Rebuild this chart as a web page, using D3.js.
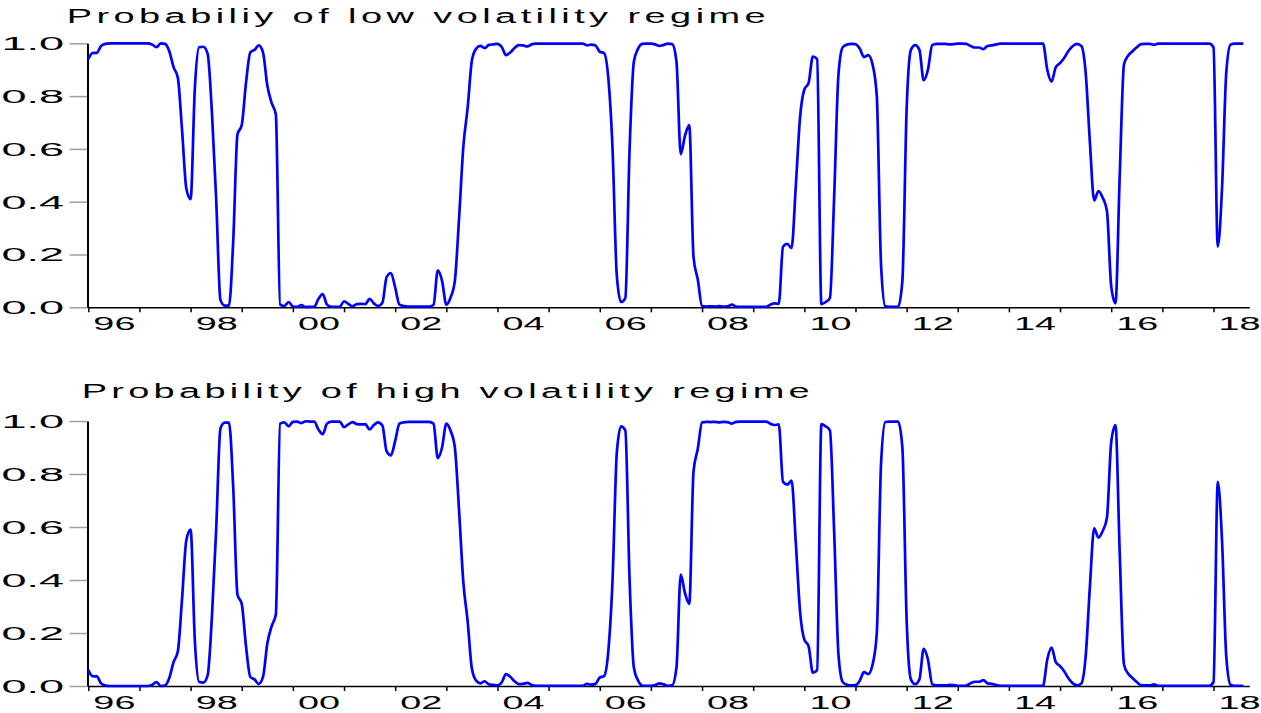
<!DOCTYPE html>
<html>
<head>
<meta charset="utf-8">
<script src="https://cdn.jsdelivr.net/npm/d3@7"></script>
<style>
html,body{margin:0;padding:0;background:#fff;}
svg{display:block;}
</style>
</head>
<body>
<svg id="chart" width="1261" height="713"></svg>
<script>
// ---------------- DATA (monthly, Jan 1996 - Aug 2018) ----------------
const startYear = 1996;
const periodsPerYear = 12;

const lowProb = [
  // 1996
  0.94, 0.963, 0.964, 0.99, 0.998, 1, 1, 1, 1, 1, 1, 1,
  // 1997
  1, 1, 1, 0.995, 0.985, 1, 0.998, 0.97, 0.91, 0.87, 0.67, 0.45,
  // 1998
  0.41, 0.83, 0.985, 0.987, 0.96, 0.74, 0.41, 0.028, 0.006, 0.006, 0.25, 0.655,
  // 1999
  0.69, 0.85, 0.965, 0.975, 0.992, 0.965, 0.84, 0.775, 0.73, 0.01, 0.005, 0.02,
  // 2000
  0.003, 0.002, 0.008, 0.001, 0.002, 0.002, 0.032, 0.05, 0.01, 0.002, 0.002, 0.002,
  // 2001
  0.023, 0.013, 0.004, 0.012, 0.013, 0.012, 0.032, 0.015, 0.005, 0.017, 0.115, 0.13,
  // 2002
  0.075, 0.01, 0.005, 0.003, 0.003, 0.003, 0.003, 0.003, 0.003, 0.01, 0.14, 0.1,
  // 2003
  0.01, 0.037, 0.1, 0.34, 0.61, 0.755, 0.935, 0.98, 0.99, 0.982, 0.994, 0.996,
  // 2004
  0.998, 0.986, 0.955, 0.965, 0.982, 0.993, 0.992, 0.988, 0.996, 0.999, 0.999, 0.999,
  // 2005
  0.999, 0.999, 0.999, 0.999, 0.999, 0.999, 0.999, 0.999, 0.999, 0.992, 0.995, 0.992,
  // 2006
  0.968, 0.963, 0.87, 0.6, 0.12, 0.02, 0.035, 0.6, 0.93, 0.98, 0.998, 0.999,
  // 2007
  0.999, 0.996, 0.99, 0.994, 0.999, 0.997, 0.93, 0.58, 0.65, 0.69, 0.19, 0.105,
  // 2008
  0.005, 0.003, 0.004, 0.003, 0.005, 0.003, 0.004, 0.01, 0.003, 0.002, 0.002, 0.002,
  // 2009
  0.002, 0.002, 0.002, 0.002, 0.01, 0.015, 0.013, 0.23, 0.24, 0.225, 0.46, 0.72,
  // 2010
  0.825, 0.85, 0.95, 0.94, 0.012, 0.02, 0.035, 0.42, 0.88, 0.985, 0.995, 0.998,
  // 2011
  0.997, 0.98, 0.948, 0.955, 0.92, 0.8, 0.16, 0.004, 0.002, 0.002, 0.002, 0.1,
  // 2012
  0.75, 0.975, 0.993, 0.975, 0.86, 0.9, 0.993, 0.998, 0.998, 0.998, 0.996, 0.997,
  // 2013
  0.999, 0.999, 0.998, 0.99, 0.984, 0.984, 0.978, 0.99, 0.992, 0.996, 0.999, 0.999,
  // 2014
  0.999, 0.999, 0.999, 0.999, 0.999, 0.999, 0.999, 0.999, 0.999, 0.9, 0.855, 0.91,
  // 2015
  0.925, 0.945, 0.972, 0.99, 0.998, 0.99, 0.89, 0.625, 0.405, 0.44, 0.415, 0.365,
  // 2016
  0.08, 0.015, 0.5, 0.92, 0.954, 0.97, 0.985, 0.997, 0.998, 0.998, 0.994, 0.999,
  // 2017
  0.999, 0.999, 0.999, 0.999, 0.999, 0.999, 0.999, 0.999, 0.999, 0.999, 0.999, 0.999,
  // 2018
  0.985, 0.23, 0.45, 0.89, 0.995, 0.999, 0.999, 0.999
];

const highProb = [
  // 1996
  0.06, 0.037, 0.036, 0.01, 0.002, 0, 0, 0, 0, 0, 0, 0,
  // 1997
  0, 0, 0, 0.005, 0.015, 0, 0.002, 0.03, 0.09, 0.13, 0.33, 0.55,
  // 1998
  0.59, 0.17, 0.015, 0.013, 0.04, 0.26, 0.59, 0.972, 0.994, 0.994, 0.75, 0.345,
  // 1999
  0.31, 0.15, 0.035, 0.025, 0.008, 0.035, 0.16, 0.225, 0.27, 0.99, 0.995, 0.98,
  // 2000
  0.997, 0.998, 0.992, 0.999, 0.998, 0.998, 0.968, 0.95, 0.99, 0.998, 0.998, 0.998,
  // 2001
  0.977, 0.987, 0.996, 0.988, 0.987, 0.988, 0.968, 0.985, 0.995, 0.983, 0.885, 0.87,
  // 2002
  0.925, 0.99, 0.995, 0.997, 0.997, 0.997, 0.997, 0.997, 0.997, 0.99, 0.86, 0.9,
  // 2003
  0.99, 0.963, 0.9, 0.66, 0.39, 0.245, 0.065, 0.02, 0.01, 0.018, 0.006, 0.004,
  // 2004
  0.002, 0.014, 0.045, 0.035, 0.018, 0.007, 0.008, 0.012, 0.004, 0.001, 0.001, 0.001,
  // 2005
  0.001, 0.001, 0.001, 0.001, 0.001, 0.001, 0.001, 0.001, 0.001, 0.008, 0.005, 0.008,
  // 2006
  0.032, 0.037, 0.13, 0.4, 0.88, 0.98, 0.965, 0.4, 0.07, 0.02, 0.002, 0.001,
  // 2007
  0.001, 0.004, 0.01, 0.006, 0.001, 0.003, 0.07, 0.42, 0.35, 0.31, 0.81, 0.895,
  // 2008
  0.995, 0.997, 0.996, 0.997, 0.995, 0.997, 0.996, 0.99, 0.997, 0.998, 0.998, 0.998,
  // 2009
  0.998, 0.998, 0.998, 0.998, 0.99, 0.985, 0.987, 0.77, 0.76, 0.775, 0.54, 0.28,
  // 2010
  0.175, 0.15, 0.05, 0.06, 0.988, 0.98, 0.965, 0.58, 0.12, 0.015, 0.005, 0.002,
  // 2011
  0.003, 0.02, 0.052, 0.045, 0.08, 0.2, 0.84, 0.996, 0.998, 0.998, 0.998, 0.9,
  // 2012
  0.25, 0.025, 0.007, 0.025, 0.14, 0.1, 0.007, 0.002, 0.002, 0.002, 0.004, 0.003,
  // 2013
  0.001, 0.001, 0.002, 0.01, 0.016, 0.016, 0.022, 0.01, 0.008, 0.004, 0.001, 0.001,
  // 2014
  0.001, 0.001, 0.001, 0.001, 0.001, 0.001, 0.001, 0.001, 0.001, 0.1, 0.145, 0.09,
  // 2015
  0.075, 0.055, 0.028, 0.01, 0.002, 0.01, 0.11, 0.375, 0.595, 0.56, 0.585, 0.635,
  // 2016
  0.92, 0.985, 0.5, 0.08, 0.046, 0.03, 0.015, 0.003, 0.002, 0.002, 0.006, 0.001,
  // 2017
  0.001, 0.001, 0.001, 0.001, 0.001, 0.001, 0.001, 0.001, 0.001, 0.001, 0.001, 0.001,
  // 2018
  0.015, 0.77, 0.55, 0.11, 0.005, 0.001, 0.001, 0.001
];

const yearTicks = [1996,1997,1998,1999,2000,2001,2002,2003,2004,2005,2006,2007,
                   2008,2009,2010,2011,2012,2013,2014,2015,2016,2017,2018];
const yearLabelYears = [1996,1998,2000,2002,2004,2006,2008,2010,2012,2014,2016,2018];
const yearLabelTexts = ["96","98","00","02","04","06","08","10","12","14","16","18"];
const yTickValues = [0, 0.2, 0.4, 0.6, 0.8, 1.0];
const panelTitles = ["Probabiliy of low volatility regime", "Probability of high volatility regime"];

// ---------------- LAYOUT ----------------
const FONT = "'Liberation Sans', Arial, Helvetica, sans-serif";
const svg = d3.select("#chart");

const x = d3.scaleLinear().domain([1996, 2018.7]).range([88.3, 1249.3]);
const axisX = 87.5;

const panels = [
  { title: panelTitles[0], data: lowProb,  yTop: 43.3,  yBottom: 307.3, titleX: 66.7, titleY: 22.7,  titleW: 699 },
  { title: panelTitles[1], data: highProb, yTop: 421.0, yBottom: 686.0, titleX: 81.7, titleY: 397.7, titleW: 728 }
];

const titleScale = 1.9;
const xLabelScale = 2.1;
const yLabelScale = 2.5;

panels.forEach(p => {
  const y = d3.scaleLinear().domain([0, 1]).range([p.yBottom, p.yTop]);
  const g = svg.append("g");

  // Y axis
  const yAxis = d3.axisLeft(y).tickValues(yTickValues).tickSize(18).tickSizeOuter(0)
    .tickFormat(d3.format(".1f"));
  const gy = g.append("g").attr("transform", `translate(${axisX},0)`).call(yAxis);
  gy.attr("font-family", FONT).attr("font-size", 18);
  gy.selectAll(".tick line").attr("stroke", "#a0a0a0").attr("stroke-width", 1.5);
  gy.select(".domain").attr("stroke", "#000").attr("stroke-width", 2);
  gy.selectAll(".tick text")
    .attr("x", 0).attr("dy", "0.36em").attr("fill", "#000")
    .attr("text-anchor", "end")
    .attr("transform", `translate(-23.5,0) scale(${yLabelScale},1)`);
  gy.select(".domain").raise();

  // X axis ticks at year boundaries
  const xAxis = d3.axisBottom(x).tickValues(yearTicks).tickSize(5).tickSizeOuter(0).tickFormat("");
  const gx = g.append("g").attr("transform", `translate(0,${p.yBottom})`).call(xAxis);
  gx.select(".domain").attr("stroke", "#000").attr("stroke-width", 1.5);
  gx.selectAll(".tick line").attr("stroke", "#000").attr("stroke-width", 1.5);

  // X labels centred in the labelled years
  const xLab = d3.axisBottom(x).tickValues(yearLabelYears.map(v => v + 0.5)).tickSize(0)
    .tickFormat((d, i) => yearLabelTexts[i]);
  const gl = g.append("g").attr("transform", `translate(0,${p.yBottom})`).call(xLab);
  gl.select(".domain").remove();
  gl.attr("font-family", FONT).attr("font-size", 18);
  gl.selectAll(".tick text")
    .attr("y", 0).attr("dy", 0).attr("fill", "#000")
    .attr("transform", `translate(0,23) scale(${xLabelScale},1)`);

  // Title
  g.append("text")
    .attr("transform", `translate(${p.titleX},${p.titleY}) scale(${titleScale},1)`)
    .attr("x", 0).attr("y", 0)
    .attr("font-family", FONT).attr("font-size", 20).attr("fill", "#000")
    .attr("textLength", p.titleW / titleScale)
    .attr("lengthAdjust", "spacing")
    .text(p.title);

  // Line
  const line = d3.line()
    .x((d, i) => x(startYear + i / periodsPerYear))
    .y(d => y(d))
    .curve(d3.curveMonotoneX);
  g.append("path").datum(p.data)
    .attr("d", line)
    .attr("fill", "none")
    .attr("stroke", "#0000ff")
    .attr("stroke-width", 2.7)
    .attr("stroke-linejoin", "round");
});
</script>
</body>
</html>
